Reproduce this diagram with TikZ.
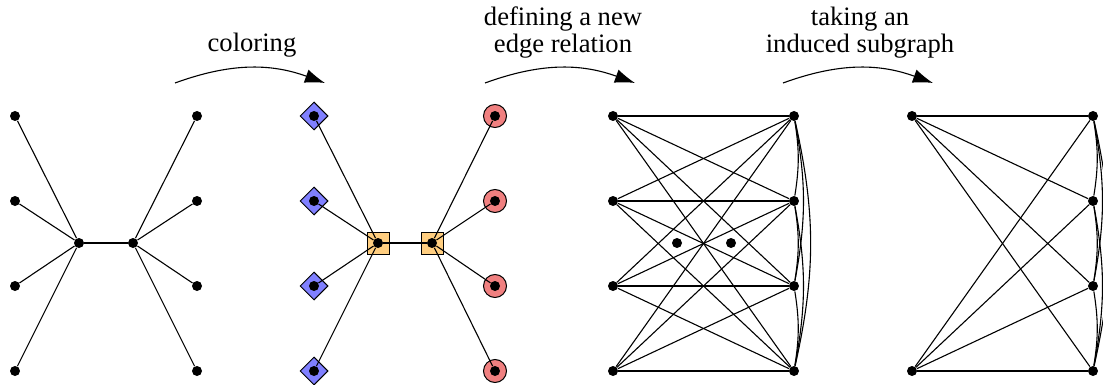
\documentclass[tikz,border=0pt]{standalone}
\usepackage{fontspec}
\setmainfont{Liberation Serif}
\usetikzlibrary{shapes.geometric,arrows.meta}
\definecolor{cblue}{RGB}{128,128,255}
\definecolor{cred}{RGB}{240,128,128}
\definecolor{corange}{RGB}{255,206,128}
\begin{document}
\begin{tikzpicture}[x=0.5pt,y=-0.5pt,
  dot/.style={circle,fill=black,inner sep=0pt,minimum size=5pt},
  edge/.style={line width=0.55pt},
  diabox/.style={diamond,draw,line width=0.5pt,fill=cblue,inner sep=0pt,minimum size=14pt},
  sqbox/.style={rectangle,draw,line width=0.5pt,fill=corange,inner sep=0pt,minimum size=11pt},
  ringbox/.style={circle,draw,line width=0.5pt,fill=cred,inner sep=0pt,minimum size=11.5pt},
  arr/.style={line width=0.55pt,-{Latex[length=10pt,width=7pt]}},
  lab/.style={font=\fontsize{13.3}{13.6}\selectfont,align=center,anchor=base,inner sep=0pt}]
\useasboundingbox (0,0) rectangle (1103,385);

% ---- tree ----
\foreach \i/\y in {1/116,2/201,3/286,4/371}{
  \node[dot] (pa\i) at (15,\y) {};
  \node[dot] (pb\i) at (197,\y) {};
}
\node[dot] (pc1) at (79,243) {};
\node[dot] (pc2) at (133,243) {};
\draw[edge] (pc1) -- (pc2);
\foreach \i in {1,...,4}{
  \draw[edge] (pc1) -- (pa\i);
  \draw[edge] (pc2) -- (pb\i);
}

% ---- coloured tree ----
\foreach \i/\y in {1/116,2/201,3/286,4/371}{
  \node[diabox] (qd\i) at (314,\y) {};
  \node[ringbox] (qr\i) at (495,\y) {};
}
\node[sqbox] (qs1) at (378,243) {};
\node[sqbox] (qs2) at (432,243) {};
\foreach \i/\y in {1/116,2/201,3/286,4/371}{
  \node[dot] (qa\i) at (314,\y) {};
  \node[dot] (qb\i) at (495,\y) {};
}
\node[dot] (qc1) at (378,243) {};
\node[dot] (qc2) at (432,243) {};
\draw[edge] (qc1) -- (qc2);
\foreach \i in {1,...,4}{
  \draw[edge] (qc1) -- (qa\i);
  \draw[edge] (qc2) -- (qb\i);
}

% ---- new edge relation ----
\foreach \i/\y in {1/116,2/201,3/286,4/371}{
  \node[dot] (ra\i) at (613,\y) {};
  \node[dot] (rb\i) at (794,\y) {};
}
\node[dot] (rc1) at (677,243) {};
\node[dot] (rc2) at (731,243) {};
\foreach \i in {1,...,4}{
  \foreach \j in {1,...,4}{
    \draw[edge] (ra\i) -- (rb\j);
  }
}
\foreach \i/\j/\b in {1/2/9,2/3/9,3/4/9,1/3/10.5,2/4/10.5,1/4/12.5}{
  \draw[edge] (rb\i) to[bend left=\b] (rb\j);
}

% ---- induced subgraph ----
\node[dot] (sa1) at (912,116) {};
\node[dot] (sa2) at (912,371) {};
\foreach \i/\y in {1/116,2/201,3/286,4/371}{
  \node[dot] (sb\i) at (1093,\y) {};
}
\foreach \i in {1,2}{
  \foreach \j in {1,...,4}{
    \draw[edge] (sa\i) -- (sb\j);
  }
}
\foreach \i/\j/\b in {1/2/9,2/3/9,3/4/9,1/3/10.5,2/4/10.5,1/4/12.5}{
  \draw[edge] (sb\i) to[bend left=\b] (sb\j);
}

% ---- transformation arrows ----
\coordinate (s1) at (175,83); \coordinate (e1) at (325,83);
\coordinate (s2) at (485,83); \coordinate (e2) at (635,83);
\coordinate (s3) at (783,83); \coordinate (e3) at (933,83);
\draw[arr] (s1) to[bend left=20] (e1);
\draw[arr] (s2) to[bend left=20] (e2);
\draw[arr] (s3) to[bend left=20] (e3);
\node[lab] (t1) at (252,52) {coloring};
\node[lab] (t2) at (563,53) {defining a new\\edge relation};
\node[lab] (t3) at (860,53) {taking an\\induced subgraph};
\end{tikzpicture}
\end{document}
